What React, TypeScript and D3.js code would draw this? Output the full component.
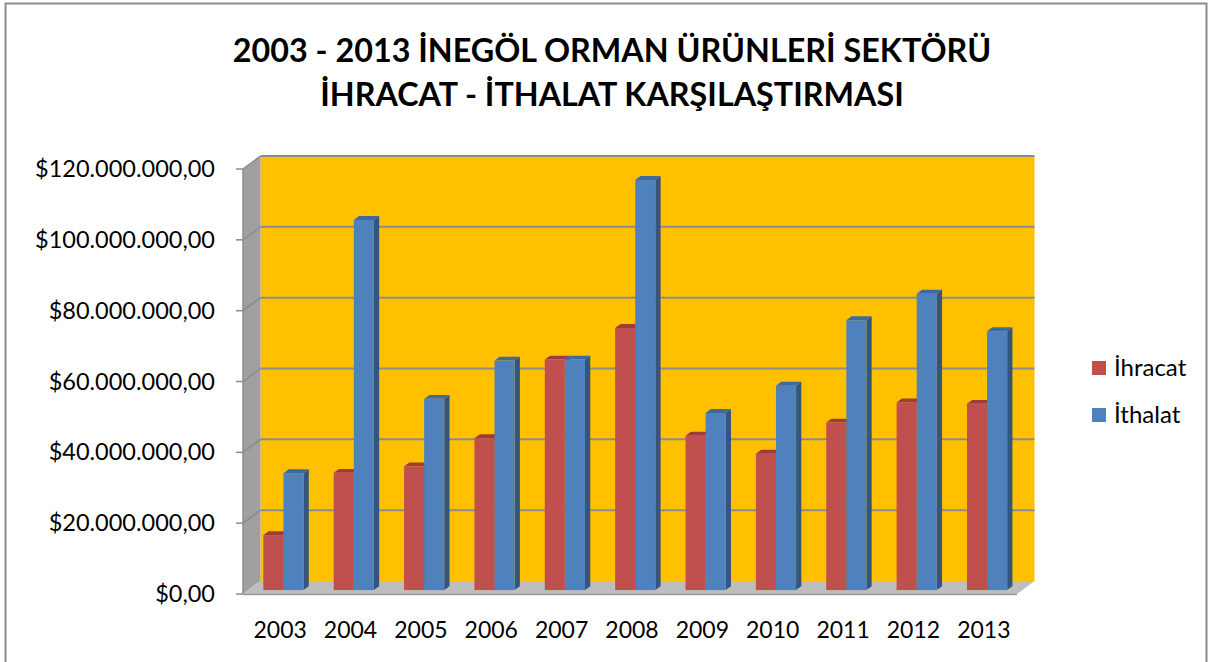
import React from "react";
import * as d3 from "d3";

const years = ["2003", "2004", "2005", "2006", "2007", "2008", "2009", "2010", "2011", "2012", "2013"];
const seriesNames = ["İhracat", "İthalat"];
const ihracat = [15.5, 33.1, 34.9, 42.9, 65.1, 74.0, 43.6, 38.5, 47.3, 53.0, 52.6].map(v => v * 1e6);
const ithalat = [33.0, 104.5, 54.0, 64.8, 65.1, 115.8, 50.0, 57.7, 76.2, 83.7, 73.1].map(v => v * 1e6);
const yTicks = [0, 20e6, 40e6, 60e6, 80e6, 100e6, 120e6];
const titleLines = ["2003 - 2013 İNEGÖL ORMAN ÜRÜNLERİ SEKTÖRÜ", "İHRACAT - İTHALAT KARŞILAŞTIRMASI"];

const colors = [
  { front: "#C0504D", top: "#9C3D3A", side: "#8A3432" },
  { front: "#4F81BD", top: "#3E6A9E", side: "#35557E" },
];

const FONT = "Lato, 'Open Sans', sans-serif";
const DX = 17.5;
const DY = -13;
const Z0 = 0.3;
const Z1 = 0.6;

const fmt = (v: number) => {
  const s = d3.format(",.2f")(v); // 120,000,000.00
  return "$" + s.replace(/,/g, "#").replace(".", ",").replace(/#/g, ".");
};

const proj = (x: number, y: number, z: number): [number, number] => [x + DX * z, y + DY * z];
const pts = (arr: [number, number][]) => arr.map(p => p.join(",")).join(" ");

export default function App() {
  const x = d3.scaleBand().domain(years).range([243, 1017]);
  const y = d3.scaleLinear().domain([0, 120e6]).range([594, 169]);
  const inner = d3.scaleBand().domain(seriesNames).range([0, x.bandwidth()]).paddingOuter(0.75);
  const [x0, x1] = x.range();
  const yB = y(0);
  const yT = y(120e6);
  const data = [ihracat, ithalat];

  return (
    <svg width={1212} height={662} style={{ position: "absolute", left: 0, top: 0, background: "#fff" }}>
      <rect x={5.5} y={3.5} width={1201} height={700} fill="#fff" stroke="#8C8C8C" strokeWidth={2} />

      {titleLines.map((t, i) => (
        <text key={i} x={612} y={62 + i * 44} textAnchor="middle" fontFamily={FONT} fontWeight={700} fontSize={32.3} fill="#000">
          {t}
        </text>
      ))}

      {/* back wall */}
      <polygon points={pts([proj(x0, yT, 1), proj(x1, yT, 1), proj(x1, yB, 1), proj(x0, yB, 1)])} fill="#FFC000" />
      {/* left wall */}
      <polygon points={pts([proj(x0, yT, 0), proj(x0, yT, 1), proj(x0, yB, 1), proj(x0, yB, 0)])} fill="#A0A0A0" />
      {/* floor */}
      <polygon points={pts([proj(x0, yB, 0), proj(x1, yB, 0), proj(x1, yB, 1), proj(x0, yB, 1)])} fill="#BEBEBE" />
      <line x1={x0} x2={x1} y1={yB + 0.5} y2={yB + 0.5} stroke="#9A9A9A" strokeWidth={1.5} />

      {yTicks.map(t => {
        const a = proj(x0, y(t), 0);
        const b = proj(x0, y(t), 1);
        const c = proj(x1, y(t), 1);
        return (
          <g key={t}>
            {t > 0 && (
              <>
                <line x1={a[0]} y1={a[1]} x2={b[0]} y2={b[1]} stroke="#8A8A8A" strokeWidth={1.5} />
                <line x1={b[0]} y1={b[1]} x2={c[0]} y2={c[1]} stroke="#8C8C8C" strokeWidth={2} />
              </>
            )}
            <line x1={x0 - 7} x2={x0} y1={y(t)} y2={y(t)} stroke="#8C8C8C" strokeWidth={1.5} />
            <text x={215} y={y(t) + 8} textAnchor="end" fontFamily={FONT} fontSize={23.5} fill="#000">
              {fmt(t)}
            </text>
          </g>
        );
      })}
      <line x1={x0} y1={yT} x2={x0} y2={yB} stroke="#8C8C8C" strokeWidth={1.5} />

      {years.map((yr, i) => (
        <g key={yr}>
          {seriesNames.map((s, j) => {
            const bx0 = (x(yr) as number) + (inner(s) as number);
            const bx1 = bx0 + inner.bandwidth();
            const top = y(data[j][i]);
            const c = colors[j];
            const fTL = proj(bx0, top, Z0);
            const fTR = proj(bx1, top, Z0);
            const fBR = proj(bx1, yB, Z0);
            const bTL = proj(bx0, top, Z1);
            const bTR = proj(bx1, top, Z1);
            const bBR = proj(bx1, yB, Z1);
            return (
              <g key={s}>
                <polygon points={pts([fTR, bTR, bBR, fBR])} fill={c.side} />
                <polygon points={pts([fTL, fTR, bTR, bTL])} fill={c.top} />
                <rect x={fTL[0]} y={fTL[1]} width={bx1 - bx0} height={fBR[1] - fTL[1]} fill={c.front} />
              </g>
            );
          })}
          <text x={(x(yr) as number) + x.bandwidth() / 2 + 2} y={638} textAnchor="middle" fontFamily={FONT} fontSize={23} fill="#000">
            {yr}
          </text>
        </g>
      ))}

      {seriesNames.map((s, j) => (
        <g key={s} transform={`translate(1092, ${361 + j * 47})`}>
          <rect width={14} height={14} fill={colors[j].front} />
          <text x={22} y={15} fontFamily={FONT} fontSize={24} fill="#000">
            {s}
          </text>
        </g>
      ))}
    </svg>
  );
}
